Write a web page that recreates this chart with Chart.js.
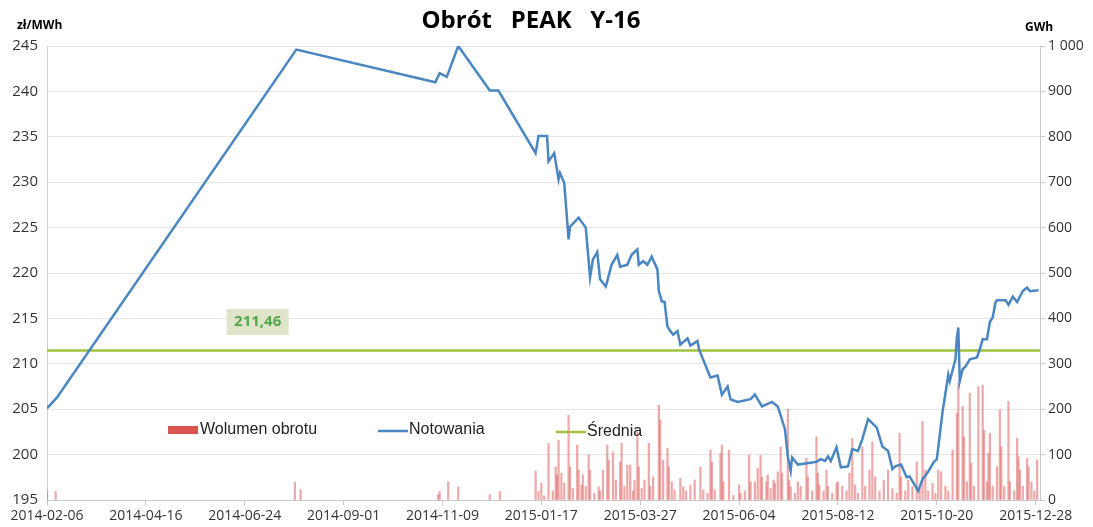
<!DOCTYPE html>
<html>
<head>
<meta charset="utf-8">
<script src="https://cdn.jsdelivr.net/npm/chart.js@4.4.1/dist/chart.umd.min.js"></script>
<style>
  html, body { margin: 0; padding: 0; background: #fff; }
  #wrap { width: 1093px; height: 527px; }
</style>
</head>
<body>
<div id="wrap"><canvas id="chart" width="1093" height="527"></canvas></div>
<script>
// x values are days counted from 2014-02-06
const tickDays = [0, 69, 138, 207, 276, 345, 414, 483, 552, 621, 690]
const tickLabels = ['2014-02-06', '2014-04-16', '2014-06-24', '2014-09-01', '2014-11-09',
  '2015-01-17', '2015-03-27', '2015-06-04', '2015-08-12', '2015-10-20', '2015-12-28']

// Notowania (zl/MWh)
const priceDay = [0, 7, 174, 271, 274, 279, 287, 309, 315, 341, 343, 349, 350, 354, 357, 358, 361,
  364, 365, 371, 376, 379, 381, 384, 386, 390, 394, 398, 400, 405, 408, 412, 413, 416, 419, 422,
  426, 427, 429, 431, 433, 435, 437, 440, 442, 447, 449, 454, 455, 463, 468, 471, 475, 477, 482,
  491, 494, 499, 506, 510, 515, 517, 519, 520, 524, 537, 540, 543, 545, 547, 551, 554, 559, 562,
  566, 569, 573, 579, 583, 587, 590, 592, 596, 600, 602, 608, 611, 614, 616, 619, 621, 625, 629,
  630, 634, 635, 636, 637, 639, 641, 644, 649, 651, 653, 656, 658, 660, 662, 663, 669, 671, 674,
  677, 681, 684, 686, 692]
const priceValue = [205.1, 206.3, 244.6, 241.0, 242.0, 241.6, 245.0, 240.1, 240.1, 233.2, 235.1,
  235.1, 232.3, 233.2, 230.3, 231.0, 229.9, 223.7, 225.1, 226.1, 225.0, 219.5, 221.5, 222.3, 219.3,
  218.5, 220.9, 222.0, 220.7, 220.9, 222.0, 222.6, 220.9, 221.3, 220.9, 221.8, 220.4, 218.0, 216.9,
  216.8, 214.1, 213.6, 213.2, 213.6, 212.1, 212.8, 212.0, 212.5, 211.6, 208.5, 208.7, 206.6, 207.5,
  206.1, 205.8, 206.1, 206.6, 205.3, 205.8, 205.3, 202.8, 199.8, 198.2, 199.7, 198.9, 199.2, 199.5,
  199.3, 199.8, 199.3, 200.8, 198.6, 198.7, 200.6, 200.4, 201.7, 203.9, 203.0, 200.9, 200.4, 198.4,
  198.7, 198.9, 197.5, 197.6, 196.0, 197.3, 197.9, 198.4, 199.2, 199.5, 204.7, 208.8, 208.1, 210.5,
  212.9, 214.0, 208.1, 209.4, 209.7, 210.5, 210.7, 211.6, 212.7, 212.7, 214.6, 215.1, 216.8, 217.0,
  217.0, 216.5, 217.4, 216.8, 218.0, 218.4, 218.0, 218.1]

// Wolumen obrotu (GWh)
const volDay = [0, 6, 173, 177, 273, 274, 280, 287, 309, 316,
  341, 343, 345, 347, 350, 353, 355, 356, 357, 359, 361, 364, 365, 367, 370, 371, 373, 374, 376,
  378, 379, 382, 385, 386, 388, 391, 392, 395, 397, 400, 401, 403, 405, 407, 409, 410, 412, 413,
  415, 417, 420, 421, 423, 427, 428, 430, 433, 434, 436, 438, 442, 444, 446, 449, 452, 456, 458,
  461, 463, 464, 466, 470, 471, 472, 476, 479, 483, 484, 487, 490, 491, 494, 496, 498, 499, 502,
  503, 505, 507, 508, 510, 512, 513, 517, 518, 519, 522, 524, 526, 530, 531, 534, 537, 538, 539,
  542, 544, 545, 548, 551, 552, 555, 558, 560, 562, 564, 566, 569, 571, 574, 576, 578, 581, 584,
  587, 590, 593, 595, 596, 599, 601, 604, 607, 609, 611, 613, 615, 618, 620, 622, 624, 627, 629,
  632, 635, 636, 639, 640, 642, 644, 645, 647, 650, 653, 654, 656, 657, 658, 660, 663, 665, 666,
  668, 671, 672, 675, 677, 678, 679, 681, 684, 685, 687, 689, 691]
const volValue = [19, 19, 39, 23, 12, 19, 40, 29, 12, 19,
  64, 19, 37, 9, 125, 20, 73, 55, 132, 59, 37, 187, 73, 25, 121, 66, 33, 55, 30,
  99, 66, 15, 29, 20, 66, 121, 88, 106, 44, 84, 125, 30, 77, 77, 20, 44, 150, 73,
  25, 44, 125, 30, 51, 209, 176, 88, 114, 73, 40, 22, 48, 29, 20, 33, 44, 73, 22,
  15, 110, 84, 22, 103, 121, 40, 110, 10, 33, 15, 20, 99, 40, 40, 70, 99, 50, 40,
  55, 25, 44, 37, 62, 117, 59, 200, 44, 29, 15, 40, 30, 92, 51, 20, 139, 59, 33,
  20, 66, 30, 15, 37, 40, 30, 20, 59, 136, 33, 15, 117, 30, 66, 128, 51, 20, 44,
  66, 25, 15, 147, 51, 20, 44, 30, 84, 30, 173, 66, 20, 37, 15, 66, 62, 30, 20,
  110, 191, 257, 206, 139, 40, 235, 81, 30, 250, 253, 154, 40, 103, 147, 30, 73, 198, 117,
  30, 217, 40, 20, 136, 95, 66, 30, 92, 73, 40, 20, 88]

// Średnia (zl/MWh)
const averageValue = 211.46

const seriesNames = ['Wolumen obrotu', 'Notowania', 'Średnia']
const colors = {
  bar: 'rgba(222, 100, 100, 0.55)',
  barLegend: '#d9534f',
  line: '#4a86c1',
  avg: '#a2c13e',
}

const xMax = 693

const overlay = {
  id: 'overlay',
  afterDraw(chart) {
    const { ctx, scales } = chart
    const x = scales.x, y = scales.y
    ctx.save()
    // title
    ctx.fillStyle = '#000'
    ctx.font = 'bold 24px "Open Sans", sans-serif'
    ctx.textAlign = 'center'
    ctx.textBaseline = 'middle'
    ctx.fillText('Obrót   PEAK   Y-16', 531, 21)
    // unit labels
    ctx.font = 'bold 12px "Open Sans", sans-serif'
    ctx.textAlign = 'left'
    ctx.fillText('zł/MWh', 17, 26)
    ctx.fillText('GWh', 1025, 28)

    // average label box
    const bx = x.getPixelForValue(147)
    const by = y.getPixelForValue(214.6)
    ctx.fillStyle = '#dfe4cb'
    ctx.fillRect(bx - 31, by - 13, 62, 26)
    ctx.fillStyle = '#55a84a'
    ctx.font = 'bold 15px "Open Sans", sans-serif'
    ctx.textAlign = 'center'
    ctx.fillText(averageValue.toFixed(2).replace('.', ','), bx, by)

    // legend
    ctx.font = '16px "Liberation Sans", Arial, sans-serif'
    ctx.textAlign = 'left'
    ctx.fillStyle = colors.barLegend
    ctx.fillRect(168, 426, 30, 8)
    ctx.fillStyle = '#222'
    ctx.fillText(seriesNames[0], 200, 430)

    ctx.strokeStyle = colors.line
    ctx.lineWidth = 2.5
    ctx.beginPath(); ctx.moveTo(378, 431); ctx.lineTo(408, 431); ctx.stroke()
    ctx.fillText(seriesNames[1], 409, 430)

    ctx.strokeStyle = colors.avg
    ctx.beginPath(); ctx.moveTo(556, 432); ctx.lineTo(586, 432); ctx.stroke()
    ctx.fillText(seriesNames[2], 587, 432)
    ctx.restore()
  },
}

const ctx = document.getElementById('chart').getContext('2d')
const myChart = new Chart(ctx, {
  data: {
    datasets: [
      {
        type: 'line',
        label: seriesNames[1],
        data: priceDay.map((d, i) => ({ x: d, y: priceValue[i] })),
        borderColor: colors.line,
        borderWidth: 2.5,
        pointRadius: 0,
        tension: 0,
        yAxisID: 'y',
        order: 0,
      },
      {
        type: 'line',
        label: seriesNames[2],
        data: [{ x: 0, y: averageValue }, { x: xMax, y: averageValue }],
        borderColor: colors.avg,
        borderWidth: 2.5,
        pointRadius: 0,
        yAxisID: 'y',
        order: 1,
      },
      {
        type: 'bar',
        label: seriesNames[0],
        data: volDay.map((d, i) => ({ x: d, y: volValue[i] })),
        backgroundColor: colors.bar,
        barThickness: 1.6,
        yAxisID: 'y1',
        order: 2,
      },
    ],
  },
  options: {
    responsive: false,
    animation: false,
    layout: { padding: { top: 46, left: 0, right: 0, bottom: 0 } },
    plugins: {
      legend: { display: false },
      tooltip: { enabled: false },
    },
    scales: {
      x: {
        type: 'linear',
        offset: false,
        min: 0,
        max: xMax,
        afterBuildTicks: (s) => { s.ticks = tickDays.map((v) => ({ value: v })) },
        afterFit: (s) => { s.height = 27 },
        ticks: {
          autoSkip: false,
          maxRotation: 0,
          padding: 3,
          color: '#333',
          font: { family: '"Open Sans", sans-serif', size: 14 },
          callback: (v, i) => tickLabels[i],
        },
        grid: { drawOnChartArea: false, tickLength: 5, color: '#c8c8c8', offset: false },
        border: { color: '#c8c8c8' },
      },
      y: {
        position: 'left',
        min: 195,
        max: 245,
        afterFit: (s) => { s.width = 47 },
        ticks: {
          stepSize: 5,
          padding: 9,
          color: '#333',
          font: { family: '"Open Sans", sans-serif', size: 15 },
        },
        grid: { color: '#e6e6e6', drawTicks: false },
        border: { color: '#d0d0d0' },
      },
      y1: {
        position: 'right',
        min: 0,
        max: 1000,
        afterFit: (s) => { s.width = 53 },
        ticks: {
          stepSize: 100,
          padding: 3,
          color: '#333',
          font: { family: '"Open Sans", sans-serif', size: 14 },
          callback: (v) => String(v).replace(/\B(?=(\d{3})+(?!\d))/g, ' '),
        },
        grid: { drawOnChartArea: false, tickLength: 5, color: '#c8c8c8' },
        border: { color: '#c8c8c8' },
      },
    },
  },
  plugins: [overlay],
})
</script>
</body>
</html>
